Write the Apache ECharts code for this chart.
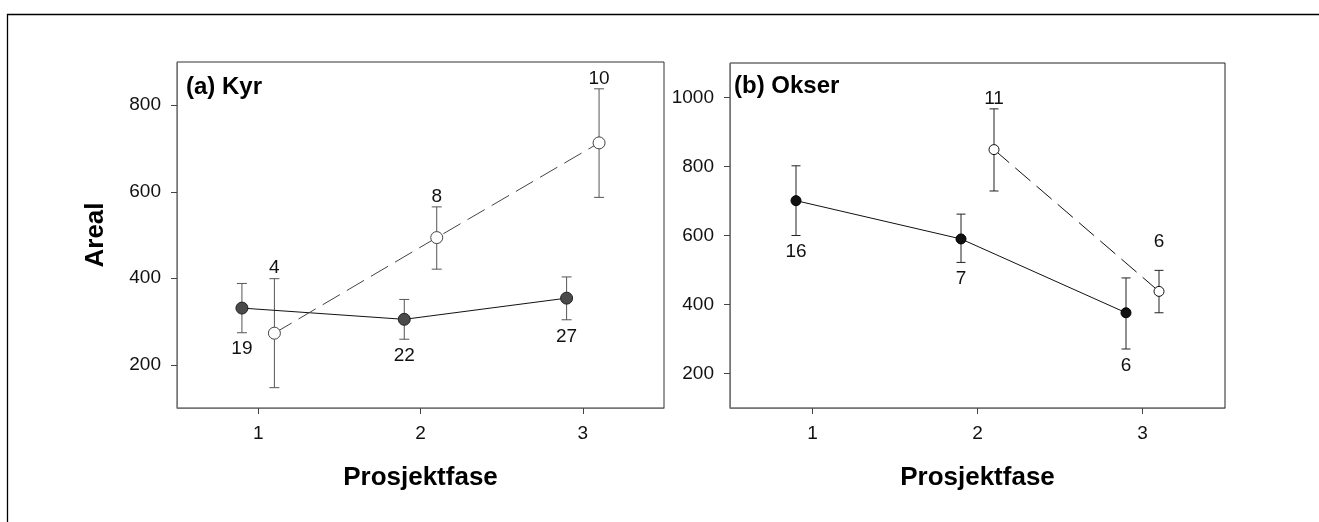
<!DOCTYPE html>
<html>
<head>
<meta charset="utf-8">
<script src="https://cdn.jsdelivr.net/npm/echarts@6/dist/echarts.min.js"></script>
<style>
  html, body { margin: 0; padding: 0; background: #fff; }
  #chart { width: 1319px; height: 522px; }
</style>
</head>
<body>
<div id="chart"></div>
<script>
// Mean area per project phase with error bars and group sizes (n).
// Filled markers: one group, open markers: the other group.
const phases = [1, 2, 3];
const phaseTicks = [1, 2, 3];

// (a) Kyr
const kyrFilledMean = [331, 305, 354];
const kyrFilledLow  = [274, 259, 304];
const kyrFilledHigh = [388, 351, 403];
const kyrFilledN    = [19, 22, 27];

const kyrOpenMean = [273, 494, 713];
const kyrOpenLow  = [147, 421, 587];
const kyrOpenHigh = [399, 565, 838];
const kyrOpenN    = [4, 8, 10];

const kyrTicks = [200, 400, 600, 800];

// (b) Okser
const okserFilledMean = [701, 590, 376];
const okserFilledLow  = [600, 522, 271];
const okserFilledHigh = [802, 662, 477];
const okserFilledN    = [16, 7, 6];

const okserOpenPhases = [2, 3];
const okserOpenMean = [849, 438];
const okserOpenLow  = [729, 376];
const okserOpenHigh = [967, 499];
const okserOpenN    = [11, 6];

const okserTicks = [200, 400, 600, 800, 1000];

// Horizontal dodge so the two groups do not overlap at a phase
const DODGE = 0.1;
// Extra lift (px) for individual n labels above the open markers in (b)
const okserOpenLabelLift = [0, 18];

const FONT = '"Liberation Sans", Arial, Helvetica, sans-serif';
const DASH = [20, 8];

function pts(xs, ys, shift) {
  return xs.map((x, i) => [x + shift, ys[i]]);
}

// Vertical error bar with caps and the group size written beside it
function errorBars(g, xs, shift, low, high, n, side, color, capW, lift) {
  return {
    type: 'custom',
    xAxisIndex: g,
    yAxisIndex: g,
    z: 1,
    silent: true,
    data: xs.map((x, i) => [x + shift, low[i], high[i], n[i], i]),
    encode: { x: 0, y: [1, 2] },
    renderItem(params, api) {
      const x = api.value(0);
      const lo = api.coord([x, api.value(1)]);
      const hi = api.coord([x, api.value(2)]);
      const h = capW / 2;
      const st = { stroke: color, lineWidth: 1 };
      const idx = api.value(4);
      const extra = lift ? lift[idx] : 0;
      const below = side === 'below';
      return {
        type: 'group',
        children: [
          { type: 'line', shape: { x1: lo[0], y1: lo[1], x2: hi[0], y2: hi[1] }, style: st },
          { type: 'line', shape: { x1: lo[0] - h, y1: lo[1], x2: lo[0] + h, y2: lo[1] }, style: st },
          { type: 'line', shape: { x1: hi[0] - h, y1: hi[1], x2: hi[0] + h, y2: hi[1] }, style: st },
          {
            type: 'text',
            x: lo[0],
            y: below ? lo[1] + 7 : hi[1] - 1 - extra,
            style: {
              text: String(api.value(3)),
              font: '19px ' + FONT,
              fill: '#111',
              align: 'center',
              verticalAlign: below ? 'top' : 'bottom'
            }
          }
        ]
      };
    }
  };
}

function xAxisFor(g) {
  return {
    gridIndex: g,
    type: 'value',
    min: 0.5,
    max: 3.5,
    name: 'Prosjektfase',
    nameLocation: 'middle',
    nameGap: 57,
    nameTextStyle: { fontSize: 26, fontWeight: 'bold', color: '#000', fontFamily: FONT },
    axisLine: { show: true, lineStyle: { color: '#777', width: 1 } },
    axisTick: { show: true, customValues: phaseTicks, length: 6, lineStyle: { color: '#444' } },
    axisLabel: { customValues: phaseTicks, fontSize: 19, color: '#111', margin: 16, fontFamily: FONT },
    splitLine: { show: false }
  };
}

function yAxisFor(g, min, max, ticks, name) {
  const ax = {
    gridIndex: g,
    type: 'value',
    min: min,
    max: max,
    axisLine: { show: true, lineStyle: { color: '#777', width: 1 } },
    axisTick: { show: true, customValues: ticks, length: 6, lineStyle: { color: '#444' } },
    axisLabel: {
      customValues: ticks, fontSize: 19, color: '#111', margin: 16, fontFamily: FONT,
      formatter: v => String(v)
    },
    splitLine: { show: false }
  };
  if (name) {
    ax.name = name;
    ax.nameLocation = 'middle';
    ax.nameGap = 68;
    ax.nameRotate = 90;
    ax.nameTextStyle = { fontSize: 26, fontWeight: 'bold', color: '#000', fontFamily: FONT };
  }
  return ax;
}

const chart = echarts.init(document.getElementById('chart'), null, { renderer: 'canvas' });

chart.setOption({
  animation: false,
  backgroundColor: '#fff',
  grid: [
    { left: 177, top: 62, width: 487, height: 346, show: true, borderColor: '#333', borderWidth: 1, backgroundColor: 'transparent' },
    { left: 730, top: 63, width: 495, height: 345, show: true, borderColor: '#222', borderWidth: 1, backgroundColor: 'transparent' }
  ],
  xAxis: [xAxisFor(0), xAxisFor(1)],
  yAxis: [
    yAxisFor(0, 100, 900, kyrTicks, 'Areal'),
    yAxisFor(1, 100, 1100, okserTicks, null)
  ],
  graphic: [
    {
      type: 'polyline',
      shape: { points: [[7.5, 522], [7.5, 14.5], [1319, 14.5]] },
      style: { stroke: '#000', lineWidth: 1.3, fill: null },
      silent: true
    },
    {
      type: 'text', left: 186, top: 75,
      style: { text: '(a) Kyr', font: 'bold 24px ' + FONT, fill: '#000' }
    },
    {
      type: 'text', left: 734, top: 74,
      style: { text: '(b) Okser', font: 'bold 24px ' + FONT, fill: '#000' }
    }
  ],
  series: [
    // (a) Kyr
    errorBars(0, phases, -DODGE, kyrFilledLow, kyrFilledHigh, kyrFilledN, 'below', '#555', 10),
    errorBars(0, phases, DODGE, kyrOpenLow, kyrOpenHigh, kyrOpenN, 'above', '#555', 10),
    {
      type: 'line', xAxisIndex: 0, yAxisIndex: 0, z: 3,
      data: pts(phases, kyrFilledMean, -DODGE),
      symbol: 'circle', symbolSize: 12,
      itemStyle: { color: '#4a4a4a', borderColor: '#222', borderWidth: 1 },
      lineStyle: { color: '#111', width: 1 }
    },
    {
      type: 'line', xAxisIndex: 0, yAxisIndex: 0, z: 3,
      data: pts(phases, kyrOpenMean, DODGE),
      symbol: 'circle', symbolSize: 12,
      itemStyle: { color: '#fff', borderColor: '#444', borderWidth: 1 },
      lineStyle: { color: '#444', width: 1, type: DASH }
    },
    // (b) Okser
    errorBars(1, phases, -DODGE, okserFilledLow, okserFilledHigh, okserFilledN, 'below', '#222', 9),
    errorBars(1, okserOpenPhases, DODGE, okserOpenLow, okserOpenHigh, okserOpenN, 'above', '#222', 9, okserOpenLabelLift),
    {
      type: 'line', xAxisIndex: 1, yAxisIndex: 1, z: 3,
      data: pts(phases, okserFilledMean, -DODGE),
      symbol: 'circle', symbolSize: 10,
      itemStyle: { color: '#111', borderColor: '#000', borderWidth: 1 },
      lineStyle: { color: '#111', width: 1 }
    },
    {
      type: 'line', xAxisIndex: 1, yAxisIndex: 1, z: 3,
      data: pts(okserOpenPhases, okserOpenMean, DODGE),
      symbol: 'circle', symbolSize: 10,
      itemStyle: { color: '#fff', borderColor: '#111', borderWidth: 1 },
      lineStyle: { color: '#111', width: 1, type: DASH }
    }
  ]
});
</script>
</body>
</html>
